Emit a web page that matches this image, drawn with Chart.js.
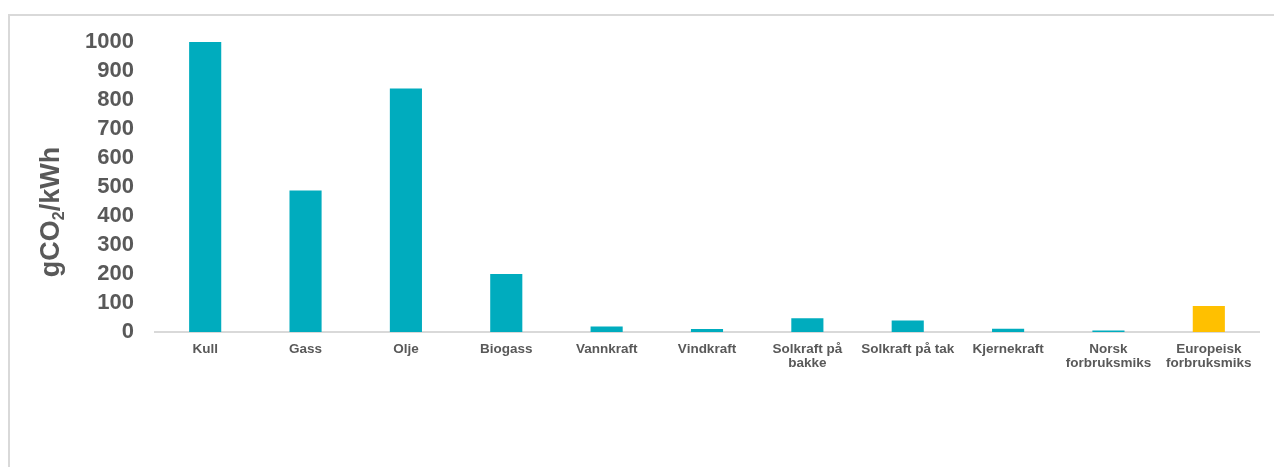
<!DOCTYPE html>
<html>
<head>
<meta charset="utf-8">
<script src="https://cdn.jsdelivr.net/npm/chart.js@4/dist/chart.umd.min.js"></script>
<style>
  html, body { margin: 0; padding: 0; background: #fff; overflow: hidden; }
  #wrap { position: relative; width: 1274px; height: 467px; }
  #frame { position: absolute; left: 8px; top: 14px; width: 1300px; height: 500px; border: 2px solid #d9d9d9; box-sizing: border-box; }
  #chart { position: absolute; left: 0; top: 0; }
</style>
</head>
<body>
<div id="wrap">
  <div id="frame"></div>
  <canvas id="chart" width="1274" height="467"></canvas>
</div>
<script>
// kategorier og verdier (gCO2/kWh)
const categories = ['Kull', 'Gass', 'Olje', 'Biogass', 'Vannkraft', 'Vindkraft',
  ['Solkraft på', 'bakke'], 'Solkraft på tak', 'Kjernekraft',
  ['Norsk', 'forbruksmiks'], ['Europeisk', 'forbruksmiks']];
const values = [1000, 488, 840, 200, 19, 10, 47, 40, 11, 5, 90];
const barColors = ['#00acbe', '#00acbe', '#00acbe', '#00acbe', '#00acbe', '#00acbe',
  '#00acbe', '#00acbe', '#00acbe', '#00acbe', '#ffc000'];
const yMin = 0, yMax = 1000, yStep = 100;
const axisTitle = ['gCO', '2', '/kWh'];

const FONT = 'Liberation Sans, Arial, sans-serif';

// aksetittel med senket 2-tall
const yTitlePlugin = {
  id: 'yTitle',
  afterDraw(chart) {
    const c = chart.ctx;
    c.save();
    c.translate(59, 212);
    c.rotate(-Math.PI / 2);
    c.fillStyle = '#595959';
    c.textBaseline = 'alphabetic';
    c.textAlign = 'left';
    const big = 'bold 27px ' + FONT;
    const small = 'bold 16px ' + FONT;
    c.font = big;
    const w1 = c.measureText(axisTitle[0]).width;
    const w3 = c.measureText(axisTitle[2]).width;
    c.font = small;
    const w2 = c.measureText(axisTitle[1]).width;
    let x = -(w1 + w2 + w3) / 2;
    c.font = big;
    c.fillText(axisTitle[0], x, 0);
    x += w1;
    c.font = small;
    c.fillText(axisTitle[1], x, 5);
    x += w2;
    c.font = big;
    c.fillText(axisTitle[2], x, 0);
    c.restore();
  }
};

const ctx = document.getElementById('chart');
new Chart(ctx, {
  type: 'bar',
  data: {
    labels: categories,
    datasets: [{
      data: values,
      backgroundColor: barColors,
      borderWidth: 0,
      categoryPercentage: 1,
      barPercentage: 0.32
    }]
  },
  options: {
    responsive: false,
    animation: false,
    layout: { padding: { left: 38, top: 42, right: 15, bottom: 75 } },
    plugins: { legend: { display: false }, tooltip: { enabled: false } },
    scales: {
      x: {
        grid: { display: false, drawTicks: false },
        border: { display: true, color: '#d9d9d9', width: 2 },
        ticks: {
          color: '#595959',
          font: { family: FONT, size: 13.5, weight: 'bold', lineHeight: 1.05 },
          padding: 10,
          maxRotation: 0,
          autoSkip: false
        },
        afterFit: function (scale) { scale.height = 60; }
      },
      y: {
        min: yMin,
        max: yMax,
        grid: { display: false, drawTicks: false },
        border: { display: false },
        ticks: {
          stepSize: yStep,
          autoSkip: false,
          color: '#595959',
          font: { family: FONT, size: 22, weight: 'bold', lineHeight: 1 },
          padding: 21,
          callback: function (v) { return String(v); }
        },
        afterFit: function (scale) { scale.width = 155 - 38; }
      }
    }
  },
  plugins: [yTitlePlugin]
});
</script>
</body>
</html>
